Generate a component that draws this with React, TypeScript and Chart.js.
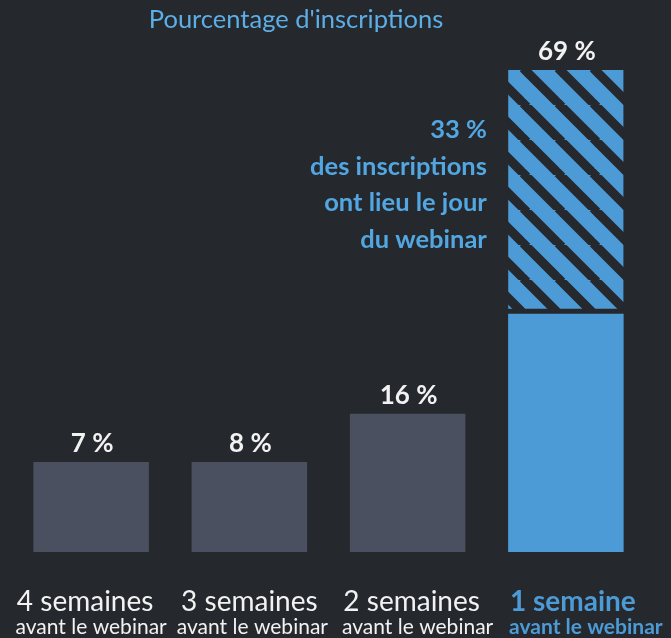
import React, { useEffect, useRef } from "react";
import { Chart, registerables } from "chart.js";

Chart.register(...registerables);

// ---- Data ----
const categories = ["4 semaines", "3 semaines", "2 semaines", "1 semaine"];
const categorySubtitles = ["avant le webinar", "avant le webinar", "avant le webinar", "avant le webinar"];
const percentLabels = ["7 %", "8 %", "16 %", "69 %"];
// bar heights as drawn in the infographic (units of % on the 69 % bar's scale)
const baseHeights = [12.9, 12.9, 19.8, 34.1];
const sameDayHeights = [null, null, null, 34.9];
const annotationLines = ["33 %", "des inscriptions", "ont lieu le jour", "du webinar"];
const titleText = "Pourcentage d'inscriptions";
const highlightIndex = 3;

// ---- Styles ----
const BG = "#25282d";
const GRAY = "#4b5061";
const BLUE = "#4d9bd6";
const TITLE_BLUE = "#5caee6";
const TEXT_BLUE = "#52a7e2";
const WHITE = "#f2f2f2";
const FONT = "Lato, 'Open Sans', sans-serif";
// horizontal nudges of the two label lines relative to each bar centre (layout only)
const line1Shift = [-6, 0, 4, 7];
const line2Shift = [0, 3, 10, 20];

function makeHatch(): CanvasPattern | string {
  const p = 35;
  const c = document.createElement("canvas");
  c.width = p;
  c.height = p;
  const ctx = c.getContext("2d");
  if (!ctx) return BLUE;
  ctx.fillStyle = BLUE;
  ctx.fillRect(0, 0, p, p);
  ctx.strokeStyle = BG;
  ctx.lineWidth = 9.2;
  for (let k = -1; k <= 1; k++) {
    ctx.beginPath();
    ctx.moveTo(k * p - 2, -2);
    ctx.lineTo(k * p + p + 2, p + 2);
    ctx.stroke();
  }
  const pat = ctx.createPattern(c, "repeat");
  return pat || BLUE;
}

const textPlugin = {
  id: "infoText",
  afterDraw(chart: any) {
    const ctx = chart.ctx as CanvasRenderingContext2D;
    const x = chart.scales.x;
    const y = chart.scales.y;
    ctx.save();
    // title
    ctx.fillStyle = TITLE_BLUE;
    ctx.font = `400 25.5px ${FONT}`;
    ctx.textAlign = "center";
    ctx.textBaseline = "alphabetic";
    ctx.fillText(titleText, 296, 28);

    // value labels
    ctx.font = `700 26px ${FONT}`;
    ctx.fillStyle = WHITE;
    categories.forEach((_, i) => {
      const total = (baseHeights[i] || 0) + ((sameDayHeights[i] as number) || 0);
      const px = x.getPixelForValue(i);
      const py = y.getPixelForValue(total);
      ctx.fillText(percentLabels[i], px + 1, py - 10);
    });

    // annotation
    ctx.fillStyle = TEXT_BLUE;
    ctx.font = `700 25.5px ${FONT}`;
    ctx.textAlign = "right";
    const annX = x.getPixelForValue(highlightIndex) - 79;
    annotationLines.forEach((line, j) => {
      ctx.fillText(line, annX, 138 + j * 36.7);
    });

    // category labels
    ctx.textAlign = "center";
    categories.forEach((cat, i) => {
      const px = x.getPixelForValue(i);
      const hl = i === highlightIndex;
      ctx.fillStyle = hl ? BLUE : WHITE;
      ctx.font = `${hl ? 700 : 400} 28px ${FONT}`;
      ctx.fillText(cat, px + line1Shift[i], 611);
      ctx.font = `${hl ? 700 : 400} 21px ${FONT}`;
      ctx.fillText(categorySubtitles[i], px + line2Shift[i], 634);
    });
    ctx.restore();
  },
};

export default function App() {
  const ref = useRef<HTMLCanvasElement | null>(null);
  useEffect(() => {
    if (!ref.current) return;
    const maxTotal = Math.max(
      ...categories.map((_, i) => (baseHeights[i] || 0) + ((sameDayHeights[i] as number) || 0))
    );
    const chart = new Chart(ref.current, {
      type: "bar",
      data: {
        labels: categories,
        datasets: [
          {
            data: baseHeights,
            backgroundColor: categories.map((_, i) => (i === highlightIndex ? BLUE : GRAY)),
            borderWidth: 0,
            barPercentage: 0.73,
            categoryPercentage: 1,
            stack: "s",
          },
          {
            data: sameDayHeights as any,
            backgroundColor: makeHatch() as any,
            borderColor: BG,
            borderWidth: { top: 0, left: 0, right: 0, bottom: 5 } as any,
            borderSkipped: false,
            barPercentage: 0.73,
            categoryPercentage: 1,
            stack: "s",
          },
        ],
      },
      options: {
        responsive: false,
        animation: false,
        devicePixelRatio: 1,
        layout: { padding: { top: 70, bottom: 86, left: 12, right: 26 } },
        plugins: { legend: { display: false }, tooltip: { enabled: false }, title: { display: false } },
        scales: {
          x: { display: false, stacked: true },
          y: { display: false, stacked: true, min: 0, max: maxTotal },
        },
      },
      plugins: [textPlugin],
    });
    return () => chart.destroy();
  }, []);
  return (
    <div style={{ position: "fixed", left: 0, top: 0, width: 671, height: 638, background: BG }}>
      <canvas ref={ref} width={671} height={638} style={{ display: "block" }} />
    </div>
  );
}
